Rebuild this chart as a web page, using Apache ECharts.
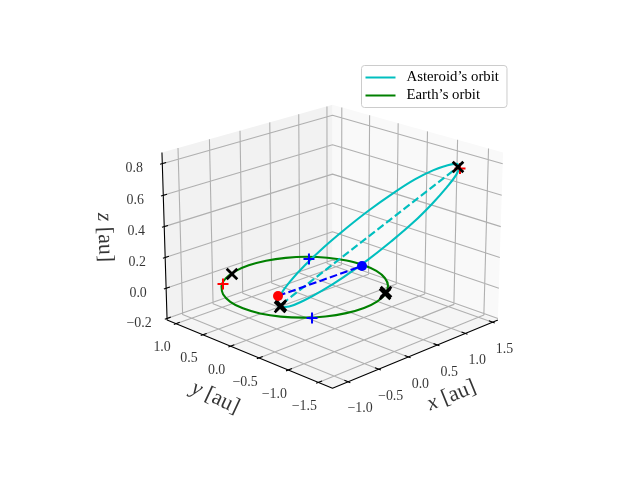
<!DOCTYPE html>
<html><head><meta charset="utf-8">
<style>html,body{margin:0;padding:0;background:#fff}#c{width:640px;height:480px}</style>
<script src="https://cdn.jsdelivr.net/npm/echarts@6/dist/echarts.min.js"></script>
</head><body><div id="c"></div>
<script>
const xLim=[-1.25,1.6], yLim=[-1.73,1.17], zLim=[-0.21,0.87];
const xTicks=[-1,-0.5,0,0.5,1,1.5];
const yTicks=[-1.5,-1,-0.5,0,0.5,1];
const zTicks=[-0.2,0,0.2,0.4,0.6,0.8];
const xTickLabels=['\u22121.0','\u22120.5','0.0','0.5','1.0','1.5'];
const yTickLabels=['\u22121.5','\u22121.0','\u22120.5','0.0','0.5','1.0'];
const zTickLabels=['\u22120.2','0.0','0.2','0.4','0.6','0.8'];
const earthOrbit=[[1.007,0.013,0],[0.972,0.277,0],[0.870,0.523,0],[0.708,0.734,0],[0.497,0.896,0],[0.251,0.998,0],[-0.013,1.033,0],[-0.277,0.998,0],[-0.523,0.896,0],[-0.734,0.734,0],[-0.896,0.523,0],[-0.998,0.277,0],[-1.033,0.013,0],[-0.998,-0.251,0],[-0.896,-0.497,0],[-0.734,-0.708,0],[-0.523,-0.870,0],[-0.277,-0.972,0],[-0.013,-1.007,0],[0.251,-0.972,0],[0.497,-0.870,0],[0.708,-0.708,0],[0.870,-0.497,0],[0.972,-0.251,0],[1.007,0.013,0]];
const asteroidOrbit=[[1.130,-1.460,0.803],[1.247,-1.309,0.792],[1.326,-1.094,0.750],[1.380,-0.814,0.680],[1.382,-0.503,0.584],[1.301,-0.209,0.468],[1.165,0.066,0.341],[0.983,0.301,0.211],[0.768,0.479,0.090],[0.536,0.585,-0.015],[0.304,0.611,-0.095],[0.091,0.557,-0.144],[-0.088,0.426,-0.160],[-0.222,0.232,-0.141],[-0.301,-0.012,-0.090],[-0.322,-0.286,-0.011],[-0.285,-0.571,0.089],[-0.194,-0.849,0.203],[-0.057,-1.103,0.324],[0.118,-1.316,0.445],[0.319,-1.477,0.557],[0.554,-1.558,0.655],[0.785,-1.576,0.732],[0.976,-1.547,0.782],[1.130,-1.460,0.803]];
const apsidesLine=[[-0.164,0.264,-0.132],[1.149,-1.419,0.796]];
const radiusLine=[[0.080,0.597,-0.160],[-0.137,-1.092,0.296]];
const blackCrosses=[[1.149,-1.419,0.796],[-0.364,0.956,0],[0.486,-0.872,0],[0.542,-0.835,0],[-0.214,0.246,-0.143],[-0.189,0.255,-0.138]];
const bluePlus=[[0.675,0.655,0],[-0.666,-0.792,0]];
const redPlus=[[-0.670,0.779,0],[1.086,-1.507,0.804]];
const redDot=[[0.080,0.597,-0.160]];
const blueDot=[[-0.137,-1.092,0.296]];

const ELEV=20,AZIM=-135,DIST=10,SCALE=1995,CX=332.5,CY=237.5;
const A=[1.1905,1.1905,0.8929];
const e=ELEV*Math.PI/180,a=AZIM*Math.PI/180;
const W=[Math.cos(e)*Math.cos(a),Math.cos(e)*Math.sin(a),Math.sin(e)];
const U=(()=>{const c=[-W[1],W[0],0];const n=Math.hypot(c[0],c[1]);return [c[0]/n,c[1]/n,0];})();
const Vv=[W[1]*U[2]-W[2]*U[1],W[2]*U[0]-W[0]*U[2],W[0]*U[1]-W[1]*U[0]];
function project(p){
  const q=[(p[0]-xLim[0])/(xLim[1]-xLim[0])*A[0]-A[0]/2,(p[1]-yLim[0])/(yLim[1]-yLim[0])*A[1]-A[1]/2,(p[2]-zLim[0])/(zLim[1]-zLim[0])*A[2]-A[2]/2];
  const d=DIST-(q[0]*W[0]+q[1]*W[1]+q[2]*W[2]);
  return [CX+SCALE*(q[0]*U[0]+q[1]*U[1]+q[2]*U[2])/d,CY-SCALE*(q[0]*Vv[0]+q[1]*Vv[1]+q[2]*Vv[2])/d];
}
const seg=(list)=>{const o=[];list.forEach(s=>{s.forEach(p=>o.push(project(p)));o.push([NaN,NaN]);});return o;};
const [x0,x1]=xLim,[y0,y1]=yLim,[z0,z1]=zLim;
const grid=[];
xTicks.forEach(t=>grid.push([[t,y0,z0],[t,y1,z0],[t,y1,z1]]));
yTicks.forEach(t=>grid.push([[x0,t,z0],[x1,t,z0],[x1,t,z1]]));
zTicks.forEach(t=>grid.push([[x0,y1,t],[x1,y1,t],[x1,y0,t]]));
const ticks=[];
const dx=(x1-x0)/12,dy=(y1-y0)/12;
xTicks.forEach(t=>ticks.push([[t,y0-0.15*dy,z0],[t,y0+0.25*dy,z0]]));
yTicks.forEach(t=>ticks.push([[x0-0.15*dx,t,z0],[x0+0.25*dx,t,z0]]));
zTicks.forEach(t=>ticks.push([[x0-0.15*dx,y1,t],[x0+0.25*dx,y1,t]]));
const axes=[[[x0,y1,z1],[x0,y1,z0],[x0,y0,z0],[x1,y0,z0]]];
const panes=[
 {pts:[[x0,y1,z0],[x1,y1,z0],[x1,y1,z1],[x0,y1,z1]],fill:'#f2f2f2'},
 {pts:[[x1,y0,z0],[x1,y1,z0],[x1,y1,z1],[x1,y0,z1]],fill:'#f9f9f9'},
 {pts:[[x0,y0,z0],[x1,y0,z0],[x1,y1,z0],[x0,y1,z0]],fill:'#f5f5f5'}
];
const FONT='"Liberation Serif"';
const crossPath='path://M-1.1,-6H1.1V-1.1H6V1.1H1.1V6H-1.1V1.1H-6V-1.1H-1.1Z';
const lineS=(data,color,width,z,extra)=>Object.assign({type:'line',data,symbol:'none',z,silent:true,animation:false,connectNulls:false,itemStyle:{color},lineStyle:{color,width}},extra||{});
const markS=(pts,symbol,size,color,z,rot)=>({type:'scatter',data:pts.map(project),symbol,symbolSize:size,symbolRotate:rot||0,itemStyle:{color,opacity:1},z,silent:true,animation:false});
const labelS=(pts,texts,offset,rotate,size,rich)=>({type:'scatter',symbol:'circle',symbolSize:0,z:8,silent:true,animation:false,
  data:pts.map((p,i)=>{const q=project(p);return [q[0]+offset[0],q[1]+offset[1],texts[i]];}),
  label:{show:true,position:'inside',formatter:o=>o.data[2],rotate,fontFamily:FONT,fontSize:size,color:'#000',align:'center',verticalAlign:'middle',rich:rich||{}}});
const rich={i:{fontFamily:FONT,fontStyle:'italic',fontSize:22,color:'#000'},r:{fontFamily:FONT,fontSize:22,color:'#000'}};
const option={
 animation:false,
 grid:{left:0,right:0,top:0,bottom:0},
 xAxis:{type:'value',min:0,max:640,show:false},
 yAxis:{type:'value',min:0,max:480,inverse:true,show:false},
 tooltip:{show:false},
 legend:{left:361.5,top:65.5,orient:'vertical',data:['Asteroid\u2019s orbit','Earth\u2019s orbit'],icon:'rect',itemWidth:30,itemHeight:2,itemGap:3,padding:[4.5,8,4.5,4],
   backgroundColor:'#fff',borderColor:'#ccc',borderWidth:1,borderRadius:3,textStyle:{fontFamily:FONT,fontSize:14.8,lineHeight:15,color:'#000',padding:[0,0,0,6]},selectedMode:false},
 series:[
  {type:'custom',z:1,silent:true,animation:false,data:panes.map((p,i)=>[i]),clip:false,
   renderItem:(params,api)=>{const p=panes[params.dataIndex];return {type:'polygon',shape:{points:p.pts.map(q=>api.coord(project(q)))},style:{fill:p.fill}};}},
  lineS(seg(grid),'#b0b0b0',1.1,2),
  lineS(seg(ticks),'#000',1.1,3),
  lineS(seg(axes),'#000',1.1,3),
  lineS(earthOrbit.map(project),'#008000',2.1,4,{name:'Earth\u2019s orbit',smooth:0.4}),
  lineS(asteroidOrbit.map(project),'#00bfbf',2.1,5,{name:'Asteroid\u2019s orbit',smooth:0.4}),
  lineS(apsidesLine.map(project),'#00bfbf',2.1,5,{lineStyle:{color:'#00bfbf',width:2.1,type:[7.7,3.3]}}),
  lineS(radiusLine.map(project),'#0000ff',2.1,6,{lineStyle:{color:'#0000ff',width:2.1,type:[7.7,3.3]}}),
  markS(redPlus,crossPath,11,'#ff0000',6),
  markS(bluePlus,crossPath,11,'#0000ff',6),
  markS(blackCrosses,crossPath,15,'#000',7,45),
  markS(redDot,'circle',10,'#ff0000',7),
  markS(blueDot,'circle',10,'#0000ff',7),
  labelS(xTicks.map(t=>[t,y0,z0]),xTickLabels,[12,27],0,13.9),
  labelS(yTicks.map(t=>[x0,t,z0]),yTickLabels,[-14,24],0,13.9),
  labelS(zTicks.map(t=>[x0,y1,t]),zTickLabels,[-28,5],0,13.9),
  labelS([[0.175,y0,z0]],['{i|x} {r|[au]}'],[33,43],22,22,rich),
  labelS([[x0,-0.28,z0]],['{i|y} {r|[au]}'],[-31,45],-25,22,rich),
  labelS([[x0,y1,0.33]],['{i|z} {r|[au]}'],[-60,0],-88,22,rich)
 ]
};
echarts.init(document.getElementById('c'),null,{renderer:'canvas'}).setOption(option);
</script></body></html>
